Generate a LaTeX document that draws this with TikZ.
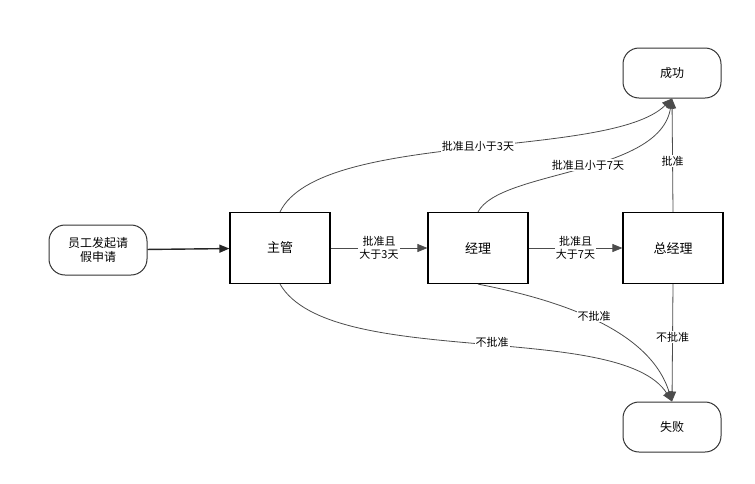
\documentclass[tikz,border=0pt]{standalone}
\usepackage{fontspec}
\setmainfont{Noto Sans CJK SC}
\usetikzlibrary{arrows.meta}
\begin{document}
\begin{tikzpicture}[x=1pt,y=-1pt,
 box/.style={draw=black,line width=1.2pt,minimum width=100pt,minimum height=71pt,font=\fontsize{13}{15}\selectfont},
 term/.style={draw=black!80,line width=1pt,rounded corners=16pt,minimum width=98pt,minimum height=50pt,font=\fontsize{12}{14}\selectfont,align=center},
 arr/.style={draw=black!70,line width=0.8pt,-{Triangle[length=10pt,width=8pt]}},
 lbl/.style={fill=white,inner sep=1pt,font=\fontsize{11}{13}\selectfont,align=center}]
\useasboundingbox (0,0) rectangle (755,483);
\node[term] (s) at (98,250) {员工发起请\\假申请};
\node[box] (a) at (280,248) {主管};
\node[box] (b) at (478,248) {经理};
\node[box] (c) at (673,248) {总经理};
\node[term] (ok) at (672,73) {成功};
\node[term] (no) at (672,427) {失败};
\draw[arr,line width=1.4pt,draw=black!85] (s) -- (a);
\draw[arr] (a) -- node[lbl]{批准且\\大于3天} (b);
\draw[arr] (b) -- node[lbl]{批准且\\大于7天} (c);
\draw[arr] (c.north) -- node[lbl,pos=0.45]{批准} (ok.south);
\draw[arr] (c.south) -- node[lbl,pos=0.45]{不批准} (no.north);
\draw[arr] (a.north) .. controls (320,130) and (610,160) .. (ok.south);
\node[lbl] at (478,146) {批准且小于3天};
\draw[arr] (b.north) .. controls (500,170) and (660,175) .. (ok.south);
\node[lbl] at (588,165) {批准且小于7天};
\draw[arr] (a.south) .. controls (330,370) and (620,320) .. (no.north);
\node[lbl] at (492,342) {不批准};
\draw[arr] (b.south) .. controls (560,300) and (650,330) .. (no.north);
\node[lbl] at (594,316) {不批准};
\end{tikzpicture}
\end{document}
